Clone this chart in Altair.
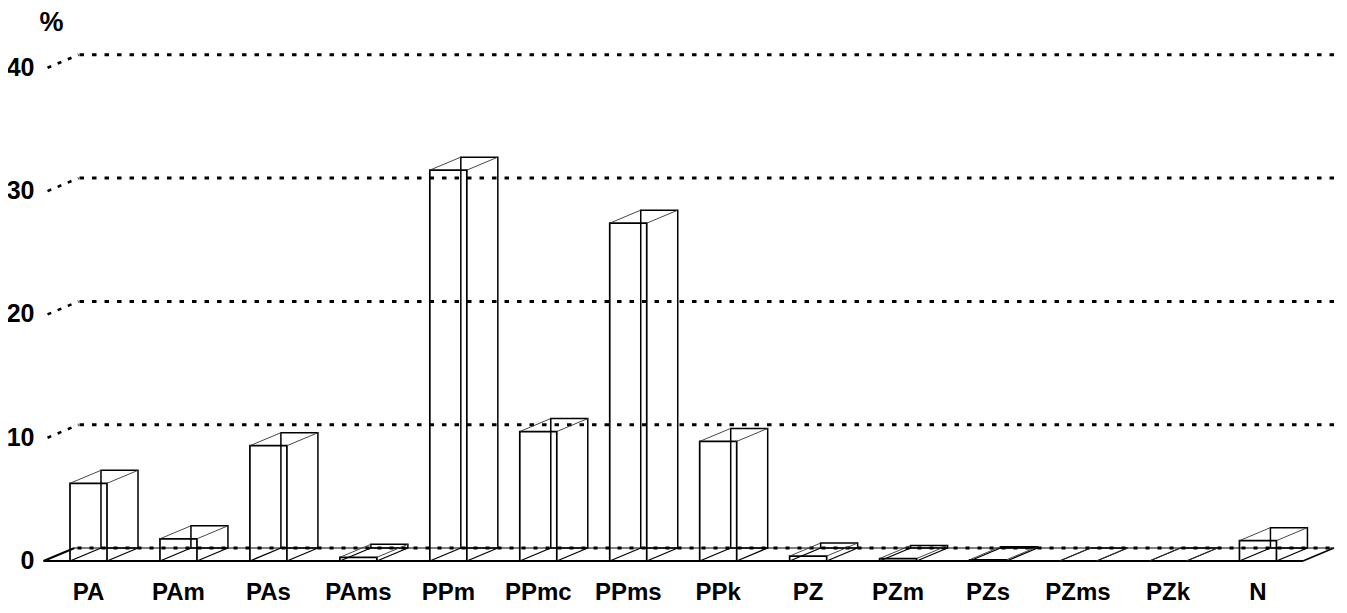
import altair as alt
import pandas as pd

categories = ["PA", "PAm", "PAs", "PAms", "PPm", "PPmc", "PPms", "PPk",
              "PZ", "PZm", "PZs", "PZms", "PZk", "N"]
values = [6.3, 1.8, 9.35, 0.3, 31.7, 10.5, 27.4, 9.7, 0.4, 0.2, 0.1, 0.0, 0.0, 1.65]
y_ticks = [0, 10, 20, 30, 40]
y_unit = ["%"]

df = pd.DataFrame({"cat": categories, "idx": list(range(len(categories))), "value": values})
tick_df = pd.DataFrame({"tick": y_ticks, "lab": [str(t) for t in y_ticks]})
grid_df = pd.DataFrame({"tick": y_ticks[1:]})
one = pd.DataFrame({"unit": y_unit})

W, H = 1290, 553
DX, DY = 31, -13      # oblique depth offset (pixels)
HW = 18.5             # half bar width (pixels)
FONT = "Liberation Sans"

xs = alt.Scale(domain=[-0.4502, 13.890], nice=False, zero=False)
ys = alt.Scale(domain=[0, 44.85], nice=False, zero=False)

X = lambda: alt.X("idx:Q", scale=xs, axis=None)
XD = lambda d: alt.X(datum=d, scale=xs, axis=None)
YD = lambda d: alt.Y(datum=d, scale=ys, axis=None)
base = alt.Chart(df)

# front faces
front = base.mark_rect(fillOpacity=0, stroke="black", strokeWidth=1.7,
                       xOffset=-HW, x2Offset=HW).encode(
    x=X(), x2=alt.X2("idx"),
    y=alt.Y("value:Q", scale=ys, axis=None), y2=alt.Y2(datum=0))

# back faces
back = base.mark_rect(fillOpacity=0, stroke="black", strokeWidth=1.5,
                      xOffset=-HW + DX, x2Offset=HW + DX, yOffset=DY, y2Offset=DY).encode(
    x=X(), x2=alt.X2("idx"),
    y=alt.Y("value:Q", scale=ys, axis=None), y2=alt.Y2(datum=0))

# top connectors
def top_conn(off):
    return base.mark_rule(color="#333333", strokeWidth=0.9,
                          xOffset=off, x2Offset=off + DX, y2Offset=DY).encode(
        x=X(), x2=alt.X2("idx"),
        y=alt.Y("value:Q", scale=ys, axis=None), y2=alt.Y2("value"))

# floor hatches (bottom connectors)
def hatch(off):
    return base.mark_rule(color="black", strokeWidth=1.3,
                          xOffset=off, x2Offset=off + DX, y2Offset=DY).encode(
        x=X(), x2=alt.X2("idx"), y=YD(0), y2=alt.Y2(datum=0))

ob = alt.Chart(one)
floor_front = ob.mark_rule(color="black", strokeWidth=2).encode(
    x=XD(-0.5), x2=alt.X2(datum=13.5), y=YD(0))
floor_back = ob.mark_rule(color="black", strokeWidth=1,
                          xOffset=DX, x2Offset=DX, yOffset=DY).encode(
    x=XD(-0.5), x2=alt.X2(datum=13.5), y=YD(0))
floor_back_dots = ob.mark_rule(color="black", strokeWidth=3, strokeDash=[4, 8],
                               xOffset=DX + 3, x2Offset=DX, yOffset=DY).encode(
    x=XD(-0.5), x2=alt.X2(datum=13.5), y=YD(0))
floor_left = ob.mark_rule(color="black", strokeWidth=2, x2Offset=DX, y2Offset=DY).encode(
    x=XD(-0.5), x2=alt.X2(datum=-0.5), y=YD(0), y2=alt.Y2(datum=0))
floor_right = ob.mark_rule(color="black", strokeWidth=1.5, x2Offset=DX, y2Offset=DY).encode(
    x=XD(13.5), x2=alt.X2(datum=13.5), y=YD(0), y2=alt.Y2(datum=0))

gb = alt.Chart(grid_df)
grid = gb.mark_rule(color="black", strokeWidth=3, strokeDash=[4.5, 8],
                    xOffset=DX + 5, yOffset=DY).encode(
    x=XD(-0.5), x2=alt.X2(datum=13.9),
    y=alt.Y("tick:Q", scale=ys, axis=None))
grid_conn = gb.mark_rule(color="black", strokeWidth=2.6, strokeDash=[4, 7],
                         xOffset=4, x2Offset=DX + 4, y2Offset=DY).encode(
    x=XD(-0.5), x2=alt.X2(datum=-0.5),
    y=alt.Y("tick:Q", scale=ys, axis=None), y2=alt.Y2("tick"))

# y tick labels (front level)
ylabels = alt.Chart(tick_df).mark_text(font=FONT, fontSize=25, fontWeight="bold",
                                       color="black", align="right", baseline="middle",
                                       xOffset=-9).encode(
    x=XD(-0.5), y=alt.Y("tick:Q", scale=ys, axis=None), text="lab:N")

unit = ob.mark_text(font=FONT, fontSize=27, fontWeight="bold", color="black",
                    align="center", baseline="middle", xOffset=8).encode(
    x=XD(-0.5), y=YD(43.6), text="unit:N")

labels = base.mark_text(font=FONT, fontSize=24, fontWeight="bold", color="black",
                        align="center", baseline="alphabetic", dy=39).encode(
    x=X(), y=YD(0), text="cat:N")

chart = alt.layer(
    grid, grid_conn, floor_back, floor_back_dots, floor_front, floor_left, floor_right,
    hatch(-HW), hatch(HW), back, front, top_conn(-HW), top_conn(HW),
    ylabels, unit, labels
).properties(
    width=W, height=H,
    autosize=alt.AutoSizeParams(type="none"),
    padding={"left": 40, "top": 0, "right": 0, "bottom": 44},
).configure_view(stroke=None)

chart.save("out.html", embed_options={"renderer": "svg", "actions": False})
